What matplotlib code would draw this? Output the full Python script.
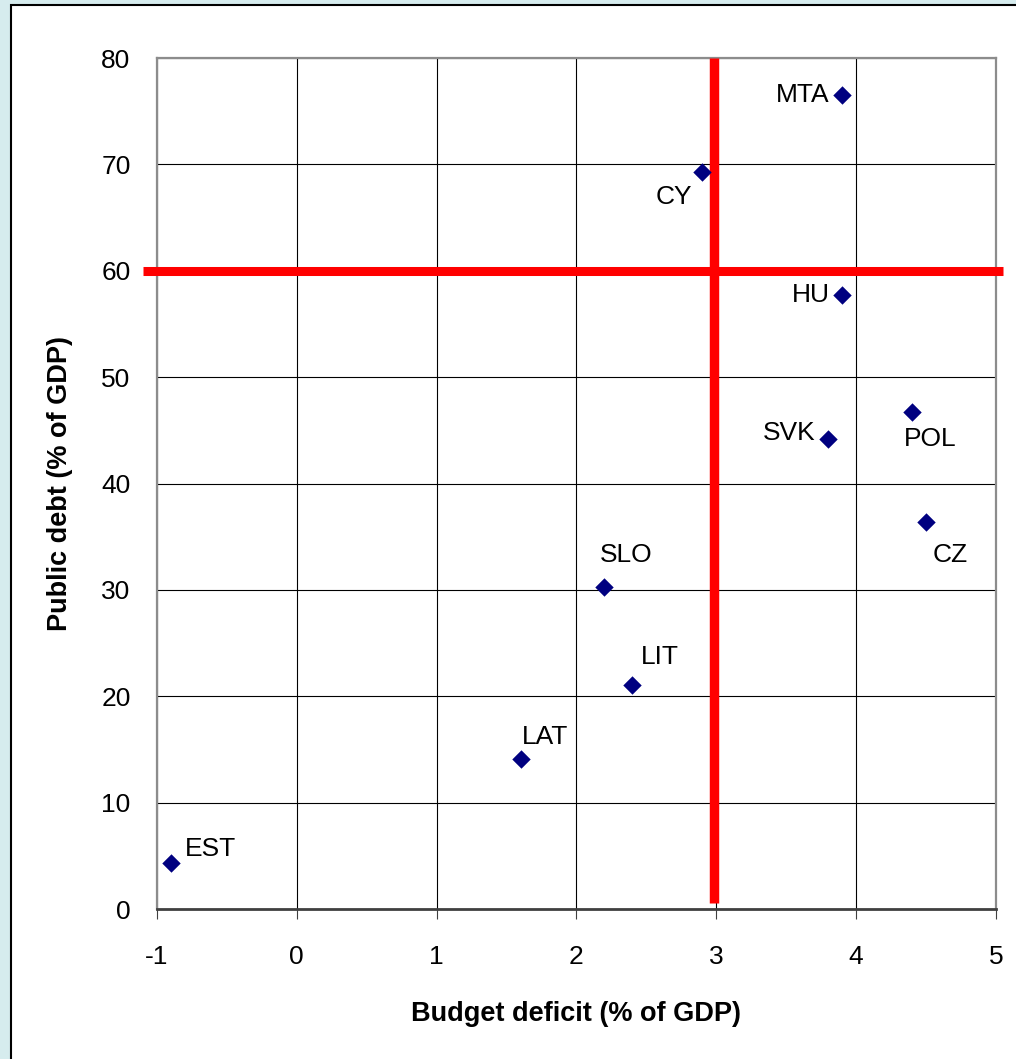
import matplotlib.pyplot as plt
from matplotlib.patches import Rectangle

# values
countries = ['MTA', 'CY', 'HU', 'SVK', 'POL', 'CZ', 'SLO', 'LIT', 'LAT', 'EST']
deficit = [3.9, 2.9, 3.9, 3.8, 4.4, 4.5, 2.2, 2.4, 1.6, -0.9]
debt = [76.5, 69.3, 57.7, 44.2, 46.7, 36.4, 30.3, 21.1, 14.1, 4.3]

# Maastricht limits
DEFICIT_LIMIT = 3
DEBT_LIMIT = 60

x_ticks = [-1, 0, 1, 2, 3, 4, 5]
y_ticks = [0, 10, 20, 30, 40, 50, 60, 70, 80]

# label placement (offset in points, ha, va)
label_pos = {
    'MTA': ((-9, 0), 'right', 'center'),
    'CY': ((-7, -18), 'right', 'center'),
    'HU': ((-9, 0), 'right', 'center'),
    'SVK': ((-9, 4), 'right', 'center'),
    'POL': ((-6, -19), 'left', 'center'),
    'CZ': ((5, -24), 'left', 'center'),
    'SLO': ((-3, 23), 'left', 'center'),
    'LIT': ((6, 20), 'left', 'center'),
    'LAT': ((1, 16), 'left', 'center'),
    'EST': ((10, 10), 'left', 'center'),
}

plt.rcParams['font.family'] = ['Liberation Sans', 'DejaVu Sans']

fig = plt.figure(figsize=(10.16, 10.59), dpi=100, facecolor='#d6ecee')
fig.patches.append(Rectangle((0.0108, -0.05), 1.2, 1.0453, transform=fig.transFigure,
                             facecolor='white', edgecolor='black', linewidth=1.5, zorder=-10))

ax = fig.add_axes([0.1545, 0.1416, 0.8258, 0.8036])
ax.set_facecolor('white')

ax.scatter(deficit, debt, marker='D', s=88, color='#000080', zorder=5, linewidths=0)
for name, x, y in zip(countries, deficit, debt):
    off, ha, va = label_pos[name]
    ax.annotate(name, (x, y), xytext=off, textcoords='offset points',
                ha=ha, va=va, fontsize=19, color='black', zorder=6)

# limit lines
ax.plot([-1.1, 5.05], [DEBT_LIMIT, DEBT_LIMIT], color='red', lw=6.5, clip_on=False,
        solid_capstyle='butt', zorder=4)
ax.plot([DEFICIT_LIMIT - 0.015, DEFICIT_LIMIT - 0.015], [0.6, 80], color='red', lw=6.8,
        clip_on=False, solid_capstyle='butt', zorder=4)

ax.set_xlim(-1, 5)
ax.set_ylim(0, 80)
ax.set_xticks(x_ticks)
ax.set_yticks(y_ticks)
ax.set_xticklabels([str(t) for t in x_ticks])
ax.grid(True, color='black', linewidth=0.8)
ax.set_axisbelow(True)

for s in ['top', 'right', 'left']:
    ax.spines[s].set_color('#8c8c8c')
    ax.spines[s].set_linewidth(1.6)
ax.spines['bottom'].set_color('#404040')
ax.spines['bottom'].set_linewidth(2)

ax.tick_params(axis='x', direction='out', length=7, width=0.8, color='#404040',
               labelsize=19, pad=19)
ax.tick_params(axis='y', length=0, labelsize=19, pad=19)

ax.set_xlabel('Budget deficit (% of GDP)', fontsize=19.5, fontweight='bold')
ax.set_ylabel('Public debt (% of GDP)', fontsize=19.5, fontweight='bold')
ax.xaxis.set_label_coords(0.5, -0.108)
ax.yaxis.set_label_coords(-0.100, 0.5)

fig.savefig('out.png', dpi=100, facecolor=fig.get_facecolor())
